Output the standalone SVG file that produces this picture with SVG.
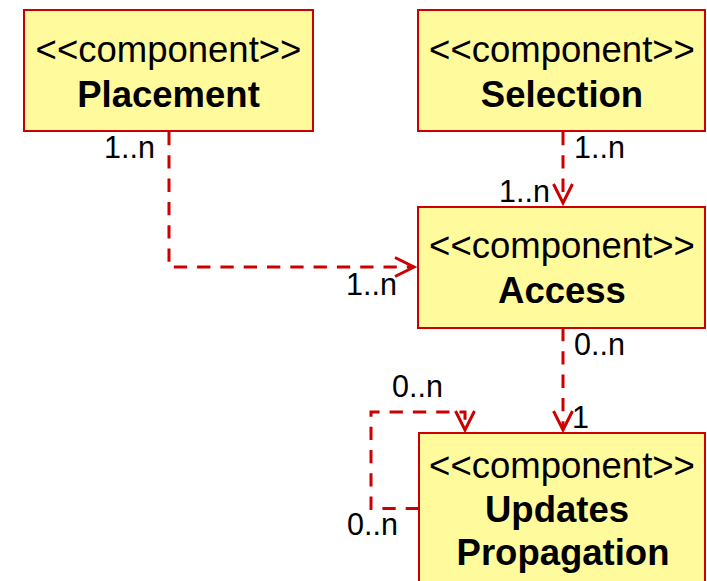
<svg xmlns="http://www.w3.org/2000/svg" width="707" height="581" viewBox="0 0 707 581">
  <style>
    .box { fill: #FFFA9C; stroke: #CC0000; stroke-width: 2; }
    .stereo { font-family: "Liberation Sans", Arial, sans-serif; font-size: 36.5px; text-anchor: middle; fill: #000; }
    .name { font-family: "Liberation Sans", Arial, sans-serif; font-size: 36.5px; font-weight: bold; text-anchor: middle; fill: #000; }
    .mult { font-family: "Liberation Sans", Arial, sans-serif; font-size: 30.5px; fill: #000; }
    .dep { fill: none; stroke: #CC0000; stroke-width: 3; stroke-dasharray: 13.3 10; }
    .head { fill: none; stroke: #CC0000; stroke-width: 3; stroke-linejoin: miter; }
  </style>
  <defs>
    <marker id="open-arrow" markerUnits="userSpaceOnUse" markerWidth="30" markerHeight="30" viewBox="-25 -15 30 30" refX="0" refY="0" orient="auto" overflow="visible">
      <path class="head" d="M-19,-9.5 L0,0 L-19,9.5"/>
    </marker>
  </defs>

  <rect width="707" height="581" fill="#FFFFFF"/>

  <!-- dependency connectors -->
  <g id="connectors">
    <path class="dep" d="M169,132 V267 H414" marker-end="url(#open-arrow)"/>
    <path class="dep" d="M563,132 V203" marker-end="url(#open-arrow)"/>
    <path class="dep" d="M563,328 V430" marker-end="url(#open-arrow)"/>
    <path class="dep" d="M419,508.5 H371 V412 H465 V430" marker-end="url(#open-arrow)"/>

    <text class="mult" x="104" y="158">1..n</text>
    <text class="mult" x="346" y="295">1..n</text>
    <text class="mult" x="574" y="158">1..n</text>
    <text class="mult" x="499" y="202">1..n</text>
    <text class="mult" x="574" y="355">0..n</text>
    <text class="mult" x="572" y="428">1</text>
    <text class="mult" x="392" y="397">0..n</text>
    <text class="mult" x="347" y="535">0..n</text>
  </g>

  <g id="placement">
    <rect class="box" x="24" y="10" width="289" height="121"/>
    <text class="stereo" x="168.5" y="62">&lt;&lt;component&gt;&gt;</text>
    <text class="name" x="168.5" y="107">Placement</text>
  </g>

  <g id="selection">
    <rect class="box" x="418" y="10" width="287" height="121"/>
    <text class="stereo" x="562" y="62">&lt;&lt;component&gt;&gt;</text>
    <text class="name" x="562" y="107">Selection</text>
  </g>

  <g id="access">
    <rect class="box" x="418" y="207" width="287" height="121"/>
    <text class="stereo" x="562" y="258">&lt;&lt;component&gt;&gt;</text>
    <text class="name" x="562" y="303">Access</text>
  </g>

  <g id="updates-propagation">
    <rect class="box" x="419" y="433" width="286" height="160"/>
    <text class="stereo" x="562" y="478">&lt;&lt;component&gt;&gt;</text>
    <text class="name" x="557" y="522">Updates</text>
    <text class="name" x="563" y="565">Propagation</text>
  </g>
</svg>
